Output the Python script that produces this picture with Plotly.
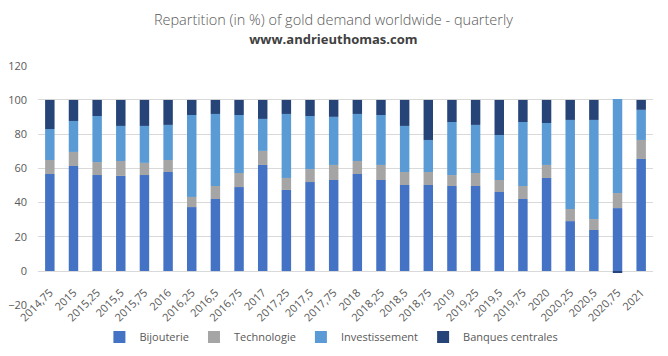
import plotly.graph_objects as go

quarters = ["2014,75", "2015", "2015,25", "2015,5", "2015,75", "2016", "2016,25", "2016,5",
            "2016,75", "2017", "2017,25", "2017,5", "2017,75", "2018", "2018,25", "2018,5",
            "2018,75", "2019", "2019,25", "2019,5", "2019,75", "2020", "2020,25", "2020,5",
            "2020,75", "2021"]

bijouterie = [56.7, 61.4, 56.1, 55.6, 56.1, 57.9, 37.4, 42.1, 49.1, 62.0, 47.4, 52.0, 53.2,
              56.7, 53.2, 50.3, 50.3, 49.7, 49.7, 46.2, 42.1, 54.4, 29.2, 24.0, 36.8, 65.5]
technologie = [8.2, 8.2, 7.6, 8.7, 7.1, 7.0, 5.9, 7.6, 8.2, 8.2, 7.0, 7.6, 8.8,
               7.6, 8.8, 7.6, 7.6, 6.4, 7.6, 7.0, 7.6, 7.6, 7.1, 6.4, 8.8, 11.1]
investissement = [18.1, 18.1, 26.9, 20.5, 21.6, 20.5, 47.9, 42.1, 33.9, 18.7, 37.4, 31.0, 28.1,
                  27.5, 29.2, 26.9, 18.7, 31.0, 28.1, 26.3, 37.4, 24.5, 52.0, 57.9, 55.0, 17.6]
banques_centrales = [17.0, 12.3, 9.4, 15.2, 15.2, 14.6, 8.8, 8.2, 8.8, 11.1, 8.2, 9.4, 9.9,
                     8.2, 8.8, 15.2, 23.4, 12.9, 14.6, 20.5, 12.9, 13.5, 11.7, 11.7, -0.6, 5.8]

y_ticks = [-20, 0, 20, 40, 60, 80, 100, 120]

series = [
    ("Bijouterie", bijouterie, "#4472C4"),
    ("Technologie", technologie, "#A5A5A5"),
    ("Investissement", investissement, "#5B9BD5"),
    ("Banques centrales", banques_centrales, "#264478"),
]

fig = go.Figure()
for name, vals, color in series:
    fig.add_trace(go.Bar(x=quarters, y=vals, name=name, marker_color=color,
                         marker_line_width=0))

font_family = "Open Sans, Liberation Sans, sans-serif"
grey = "#595959"
ymin, ymax = -20.4, 120.4
W, H = 660, 348  # page body has an 8px margin

fig.update_layout(
    width=W, height=H,
    barmode="relative",
    bargap=0.6,
    plot_bgcolor="white",
    paper_bgcolor="white",
    margin=dict(l=30, r=15, t=57, b=50, autoexpand=False),
    font=dict(family=font_family, size=11, color=grey),
    title=dict(
        text="Repartition (in %) of gold demand worldwide - quarterly<br>"
             "<span style='font-size:13px;color:#404040'><b>www.andrieuthomas.com</b></span>",
        x=0.493, xanchor="center", xref="container",
        y=1 - 16.7 / H, yanchor="top", yref="container",
        font=dict(family=font_family, size=14.5, color=grey, weight=300),
    ),
    xaxis=dict(
        type="category",
        tickangle=-45,
        showgrid=False,
        showline=False,
        ticks="",
        anchor="free",
        position=(0 - ymin) / (ymax - ymin),
        ticklabelstandoff=12,
        tickfont=dict(size=11, color=grey),
    ),
    yaxis=dict(
        range=[ymin, ymax],
        tickvals=y_ticks,
        showgrid=True,
        gridcolor="#D9D9D9",
        gridwidth=1,
        zeroline=True,
        zerolinecolor="#D9D9D9",
        zerolinewidth=1,
        showline=False,
        ticks="",
        ticklabelstandoff=10,
        tickfont=dict(size=11, color=grey),
    ),
    legend=dict(
        orientation="h",
        xref="container", yref="container",
        x=0.49, xanchor="center",
        y=(H - 329) / H, yanchor="middle",
        font=dict(size=11, color=grey),
        itemwidth=30,
    ),
)

fig.write_html("out.html")
